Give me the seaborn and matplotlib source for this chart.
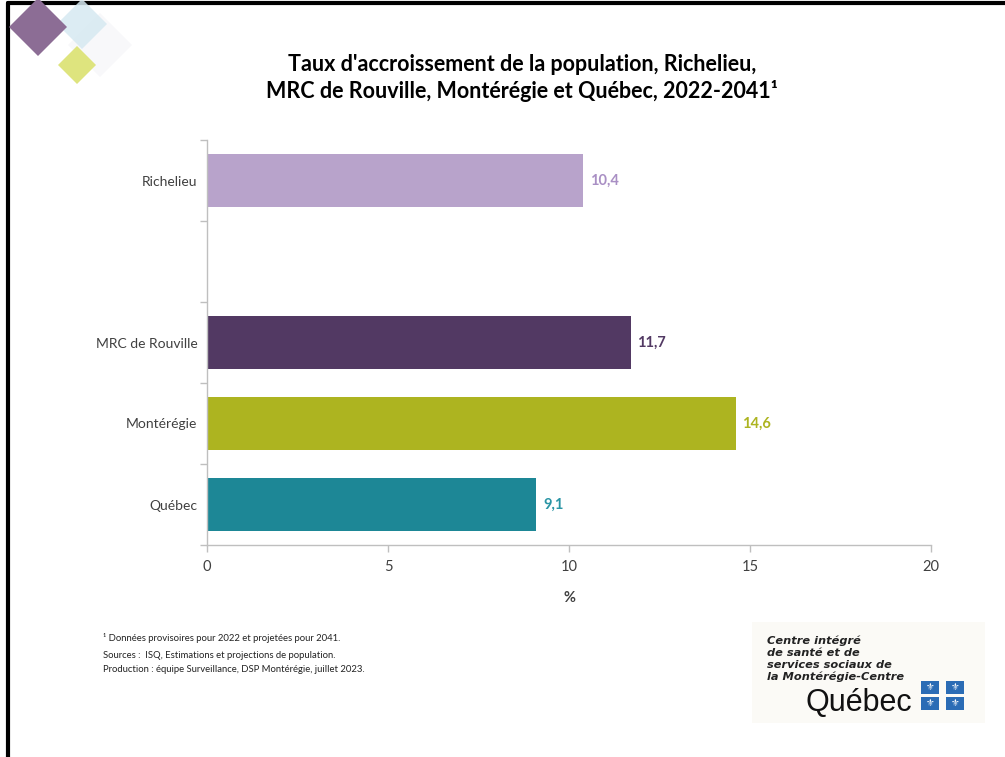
import matplotlib
matplotlib.use("Agg")
import matplotlib.pyplot as plt
from matplotlib.patches import Polygon, Rectangle
from matplotlib.lines import Line2D
import seaborn as sns
import pandas as pd

# ---- data ----
regions = ["Richelieu", "MRC de Rouville", "Montérégie", "Québec"]
values = [10.4, 11.7, 14.6, 9.1]
slot_order = ["Richelieu", " ", "MRC de Rouville", "Montérégie", "Québec"]
bar_colors = ["#b8a3cb", "#523963", "#adb420", "#1d8796"]
label_colors = ["#a98fc4", "#523963", "#adb420", "#2a95a5"]
x_ticks = [0, 5, 10, 15, 20]
title = "Taux d'accroissement de la population, Richelieu,\nMRC de Rouville, Montérégie et Québec, 2022-2041¹"
x_label = "%"
notes = ["¹ Données provisoires pour 2022 et projetées pour 2041.",
         "Sources :  ISQ, Estimations et projections de population.",
         "Production : équipe Surveillance, DSP Montérégie, juillet 2023."]
logo_lines = ["Centre intégré", "de santé et de", "services sociaux de", "la Montérégie-Centre"]

sns.set_theme(style="white")
plt.rcParams["font.family"] = ["Lato", "DejaVu Sans"]

W, H = 1005, 757
fig = plt.figure(figsize=(W / 100, H / 100), dpi=100)
fig.patch.set_facecolor("white")

ax = fig.add_axes([207 / W, 1 - 545 / H, (931 - 207) / W, (545 - 140) / H])
df = pd.DataFrame({"region": regions, "value": values})
sns.barplot(data=df, y="region", x="value", order=slot_order, hue="region",
            hue_order=regions, palette=bar_colors, legend=False, width=0.65,
            saturation=1, ax=ax, edgecolor="none", linewidth=0)

ax.set_xlim(0, 20)
ax.set_ylim(4.5, -0.5)
ax.set_xticks(x_ticks)
ax.set_xticklabels([str(t) for t in x_ticks], fontsize=10.5, color="#404040")
ax.set_yticks(range(len(slot_order)))
ax.set_yticklabels(slot_order, fontsize=10, color="#404040")
ax.tick_params(axis="y", which="major", length=0, pad=7)
ax.set_yticks([i - 0.5 for i in range(len(slot_order) + 1)], minor=True)
ax.tick_params(axis="y", which="minor", length=5, color="#bfbfbf", width=1, left=True)
ax.tick_params(axis="x", which="major", length=5, color="#bfbfbf", width=1, bottom=True, pad=6)
ax.set_xlabel(x_label, fontsize=10.5, color="#404040", fontweight="bold", labelpad=12)
ax.set_ylabel("")
for s in ["top", "right"]:
    ax.spines[s].set_visible(False)
for s in ["left", "bottom"]:
    ax.spines[s].set_color("#bfbfbf")
    ax.spines[s].set_linewidth(1)
ax.grid(False)

for cont, col in zip(ax.containers, label_colors):
    labs = [f"{b.get_width():.1f}".replace(".", ",") for b in cont]
    ax.bar_label(cont, labels=labs, padding=5, color=col, fontsize=10.5, fontweight="bold")

fig.text(522 / W, 1 - 78 / H, title, ha="center", va="center", fontsize=15.5,
         fontweight="bold", color="#000000", linespacing=1.3)

# footnotes
for txt, y in zip(notes, [638, 656, 669]):
    fig.text(103 / W, 1 - y / H, txt, fontsize=6.8, color="#222222", va="center")

# frame lines (screenshot border)
fig.add_artist(Line2D([8 / W, 8 / W], [0, 1 - 3 / H], color="black", lw=3, transform=fig.transFigure))
fig.add_artist(Line2D([8 / W, 1], [1 - 3 / H, 1 - 3 / H], color="black", lw=3, transform=fig.transFigure))

# top-left diamonds
def diamond(cx, cy, r, color, alpha=1.0, z=1):
    pts = [((cx) / W, 1 - (cy - r) / H), ((cx + r) / W, 1 - cy / H),
           (cx / W, 1 - (cy + r) / H), ((cx - r) / W, 1 - cy / H)]
    fig.add_artist(Polygon(pts, closed=True, facecolor=color, edgecolor="none",
                           alpha=alpha, transform=fig.transFigure, zorder=z))

diamond(100, 45, 32, "#f8f8fa", 1.0, 1)
diamond(82, 24, 25, "#d6e9f1", 0.85, 2)
diamond(38, 27, 29, "#8c6d95", 1.0, 3)
diamond(77, 65, 19, "#dee47e", 1.0, 4)

# bottom-right logo
fig.add_artist(Rectangle((752 / W, 1 - 723 / H), (985 - 752) / W, (723 - 622) / H,
                         facecolor="#fbfaf6", edgecolor="none", transform=fig.transFigure))
for i, line in enumerate(logo_lines):
    fig.text(767 / W, 1 - (641 + i * 11.8) / H, line, fontsize=8.2, fontweight="bold",
             fontstyle="italic", color="#222222", va="center", family=["DejaVu Sans"])
fig.text(805 / W, 1 - 703 / H, "Québec", fontsize=22, color="#111111", va="center",
         family=["Liberation Sans", "DejaVu Sans"])
for (fx, fy) in [(921, 681), (946, 681), (921, 697), (946, 697)]:
    fig.add_artist(Rectangle((fx / W, 1 - (fy + 13) / H), 18 / W, 13 / H,
                             facecolor="#2b6cb5", edgecolor="none", transform=fig.transFigure))
    fig.text((fx + 9) / W, 1 - (fy + 6.5) / H, "⚜", fontsize=7, color="white",
             ha="center", va="center", family=["DejaVu Sans"])

fig.savefig("out.png", dpi=100, facecolor="white")
